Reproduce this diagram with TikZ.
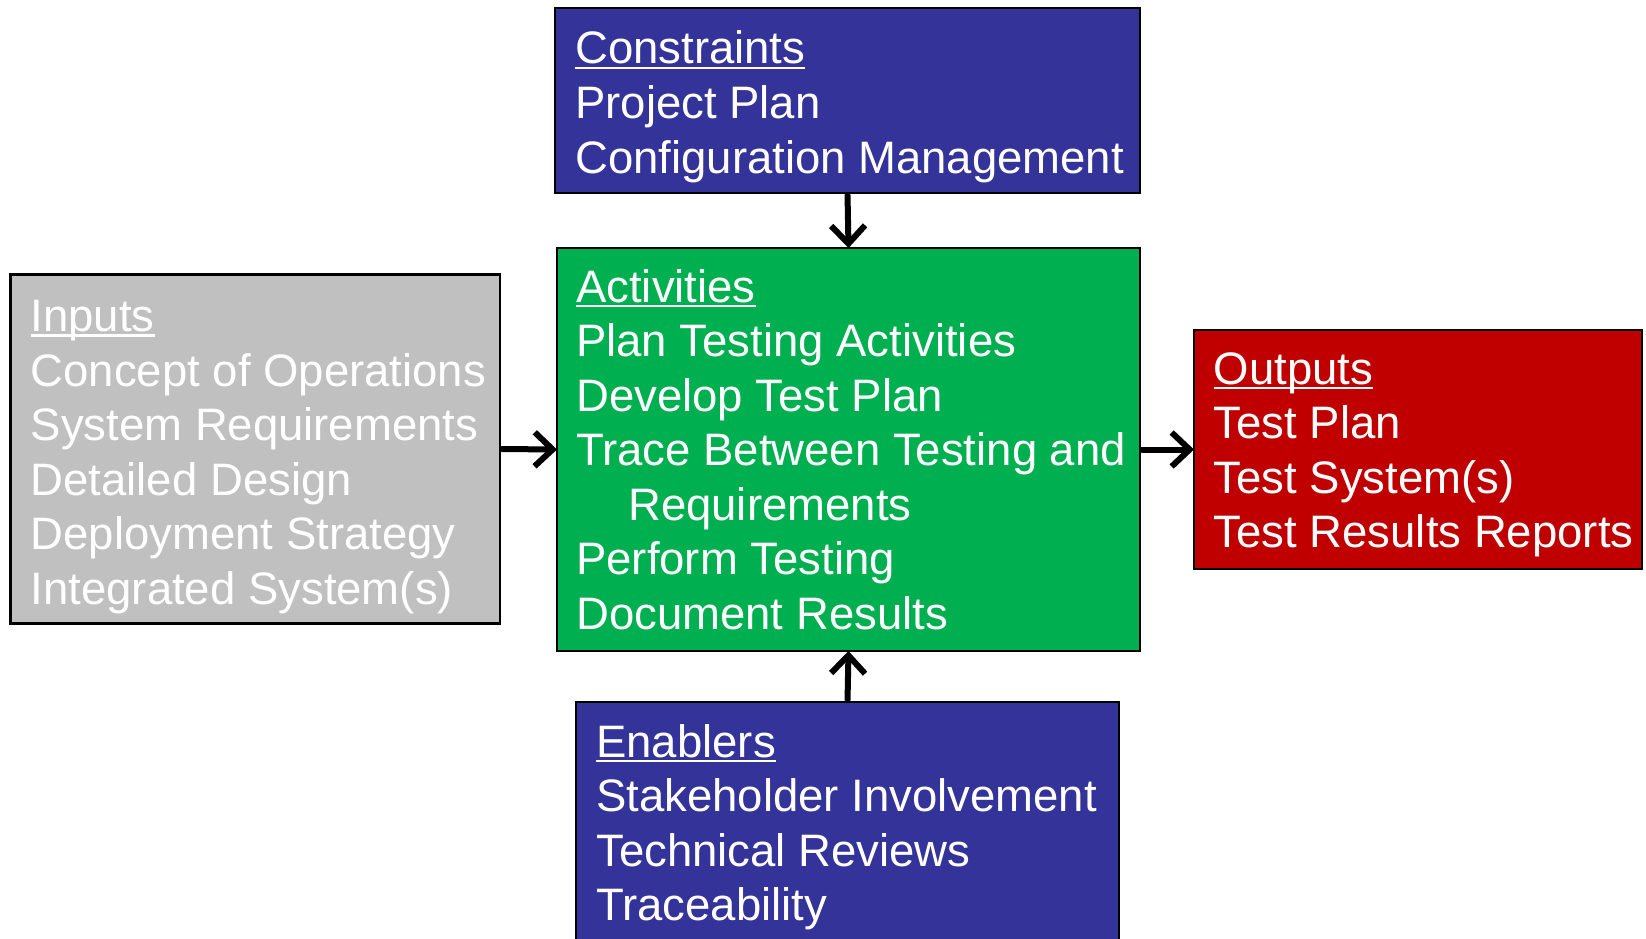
\documentclass[tikz,border=0pt]{standalone}
\usepackage{fontspec}
\setmainfont{Liberation Sans}
\usetikzlibrary{arrows.meta,calc}
\definecolor{cblue}{HTML}{333399}
\definecolor{cgreen}{HTML}{00B050}
\definecolor{cred}{HTML}{C00000}
\definecolor{cgray}{HTML}{C0C0C0}
\newcommand\hdul[1]{\setbox0\hbox{#1}\rlap{\rule[-5.3pt]{\wd0}{2.6pt}}\box0}
\begin{document}
\begin{tikzpicture}[x=1pt,y=-1pt,
  panel/.style={draw=black,line width=2.3pt,outer sep=0pt,inner sep=0pt,anchor=north west},
  txt/.style={text=white,inner sep=0pt,anchor=base west,font=\fontsize{45.5}{54.5}\selectfont},
  flow/.style={line width=6pt,-{Straight Barb[length=18pt,width=34pt]},line cap=round,line join=round}]
\useasboundingbox (0,0) rectangle (1646,939);
% panels
\node[panel,fill=cblue,minimum width=585pt,minimum height=185pt] (cons) at (555,8) {};
\node[panel,fill=cgreen,minimum width=583pt,minimum height=403pt] (act) at (557,248) {};
\node[panel,fill=cgray,minimum width=489.5pt,minimum height=349pt] (inp) at (10.5,274.5) {};
\node[panel,fill=cred,minimum width=448pt,minimum height=239pt] (outp) at (1194,330) {};
\node[panel,fill=cblue,minimum width=543pt,minimum height=245pt] (enab) at (576,702) {};
% texts
\foreach \s [count=\i from 0] in {{\hdul{Constraints}},{Project Plan},{Configuration Management}}
  \node[txt] (cons-\i) at ($(cons.north west)+(20,56+54.5*\i)$) {\s};
\foreach \s [count=\i from 0] in {{\hdul{Activities}},{Plan Testing Activities},{Develop Test Plan},{Trace Between Testing and},{\hspace*{52pt}Requirements},{Perform Testing},{Document Results}}
  \node[txt] (act-\i) at ($(act.north west)+(19,54+54.5*\i)$) {\s};
\foreach \s [count=\i from 0] in {{\hdul{Inputs}},{Concept of Operations},{System Requirements},{Detailed Design},{Deployment Strategy},{Integrated System(s)}}
  \node[txt] (inp-\i) at ($(inp.north west)+(20,57+54.5*\i)$) {\s};
\foreach \s [count=\i from 0] in {{\hdul{Outputs}},{Test Plan},{Test System(s)},{Test Results Reports}}
  \node[txt] (outp-\i) at ($(outp.north west)+(19.5,54+54.5*\i)$) {\s};
\foreach \s [count=\i from 0] in {{\hdul{Enablers}},{Stakeholder Involvement},{Technical Reviews},{Traceability}}
  \node[txt] (enab-\i) at ($(enab.north west)+(20,55+54.5*\i)$) {\s};
% connectors
\draw[flow,shorten <=2pt] (cons.south) -- (act.north);
\draw[flow,shorten <=2pt] (enab.north) -- (act.south);
\draw[flow,shorten <=2pt] (inp.east) -- (act.west);
\draw[flow,shorten <=2pt] (act.east) -- (outp.west);
\end{tikzpicture}
\end{document}
